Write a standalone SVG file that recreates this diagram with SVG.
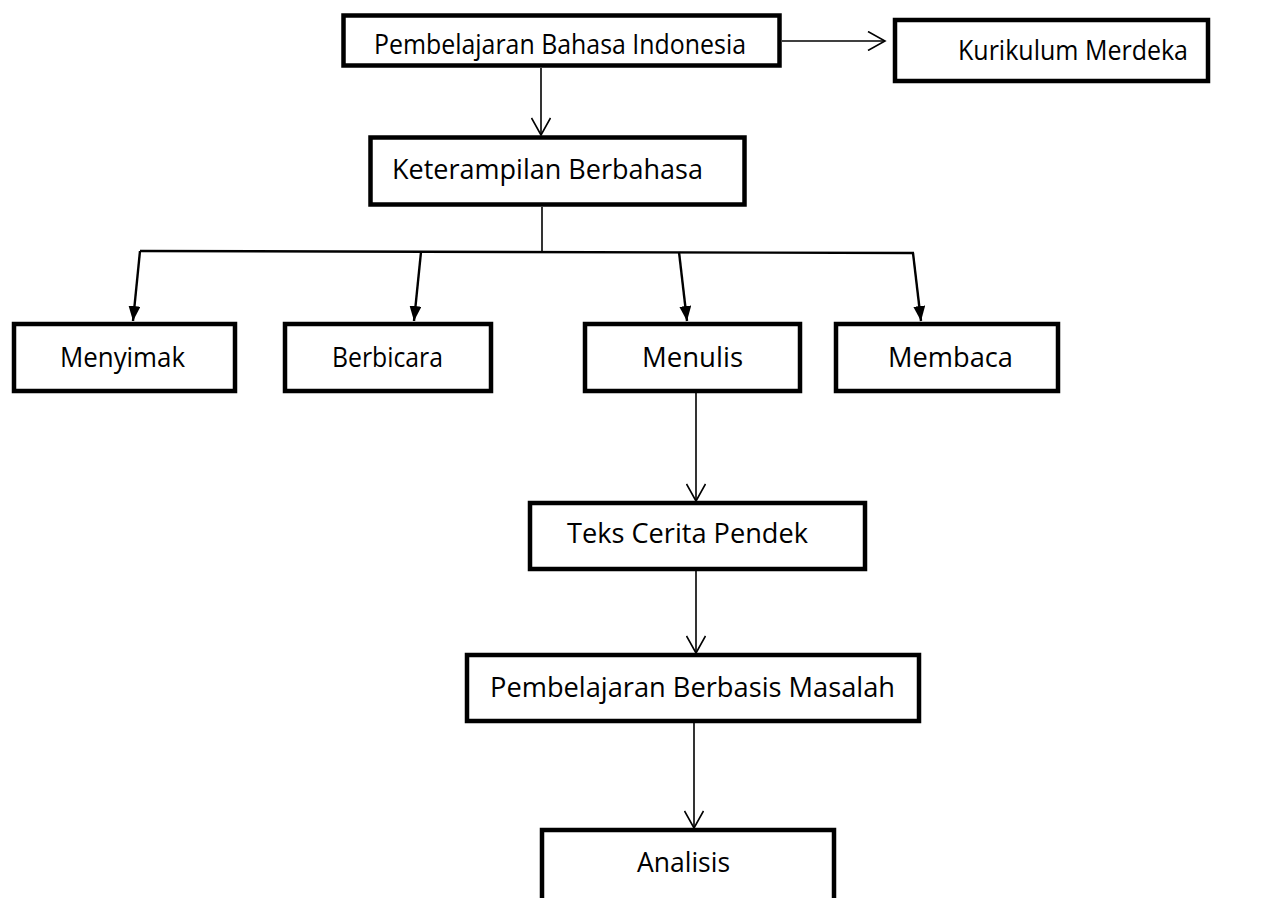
<svg xmlns="http://www.w3.org/2000/svg" width="1261" height="898" viewBox="0 0 1261 898">
<style>
.box{fill:#fff;stroke:#000;stroke-width:4.5}
.lbl{font-family:"Open Sans","Liberation Sans",sans-serif;font-size:28px;fill:#000}
.thin{fill:none;stroke:#000;stroke-width:1.6}
.thick{fill:none;stroke:#000;stroke-width:2.4}
</style>
<defs>
<marker id="open" viewBox="0 0 20 20" refX="18" refY="10" markerWidth="20" markerHeight="20" markerUnits="userSpaceOnUse" orient="auto">
<path d="M1,0.5 L18,10 L1,19.5" fill="none" stroke="#000" stroke-width="1.6"/>
</marker>
<marker id="solid" viewBox="0 0 15 12" refX="15" refY="6" markerWidth="15" markerHeight="12" markerUnits="userSpaceOnUse" orient="auto">
<path d="M0,0 L15,6 L0,12 Z" fill="#000"/>
</marker>
</defs>
<rect width="1261" height="898" fill="#fff"/>
<g id="connectors">
<line class="thin" x1="782" y1="41" x2="885" y2="41" marker-end="url(#open)"/>
<line class="thin" x1="541" y1="68" x2="541" y2="135" marker-end="url(#open)"/>
<line class="thin" x1="542" y1="207" x2="542" y2="253"/>
<line class="thick" x1="140" y1="251" x2="914" y2="253"/>
<line class="thick" x1="140" y1="251" x2="133" y2="321" marker-end="url(#solid)"/>
<line class="thick" x1="421" y1="252" x2="414" y2="321" marker-end="url(#solid)"/>
<line class="thick" x1="679" y1="252" x2="687" y2="321" marker-end="url(#solid)"/>
<line class="thick" x1="913" y1="253" x2="921" y2="321" marker-end="url(#solid)"/>
<line class="thin" x1="696" y1="393" x2="696" y2="501" marker-end="url(#open)"/>
<line class="thin" x1="696" y1="571" x2="696" y2="653" marker-end="url(#open)"/>
<line class="thin" x1="694" y1="723" x2="694" y2="828" marker-end="url(#open)"/>
</g>
<g id="node-pembelajaran-bahasa-indonesia">
<rect class="box" x="343.5" y="15.5" width="436" height="50"/>
<text class="lbl" x="374" y="54" font-size="27" textLength="372" lengthAdjust="spacingAndGlyphs">Pembelajaran Bahasa Indonesia</text>
</g>
<g id="node-kurikulum-merdeka">
<rect class="box" x="895" y="20" width="313" height="61"/>
<text class="lbl" x="958" y="60" textLength="230" lengthAdjust="spacingAndGlyphs">Kurikulum Merdeka</text>
</g>
<g id="node-keterampilan-berbahasa">
<rect class="box" x="370.5" y="137.5" width="374" height="67"/>
<text class="lbl" x="392" y="179" textLength="311" lengthAdjust="spacingAndGlyphs">Keterampilan Berbahasa</text>
</g>
<g id="node-menyimak">
<rect class="box" x="14" y="324" width="221" height="67"/>
<text class="lbl" x="60" y="367" textLength="125" lengthAdjust="spacingAndGlyphs">Menyimak</text>
</g>
<g id="node-berbicara">
<rect class="box" x="285" y="324" width="206" height="67"/>
<text class="lbl" x="332" y="367" textLength="111" lengthAdjust="spacingAndGlyphs">Berbicara</text>
</g>
<g id="node-menulis">
<rect class="box" x="585" y="324" width="215" height="67"/>
<text class="lbl" x="642" y="367" textLength="101" lengthAdjust="spacingAndGlyphs">Menulis</text>
</g>
<g id="node-membaca">
<rect class="box" x="836" y="324" width="222" height="67"/>
<text class="lbl" x="888" y="367" textLength="125" lengthAdjust="spacingAndGlyphs">Membaca</text>
</g>
<g id="node-teks-cerita-pendek">
<rect class="box" x="530" y="503" width="335" height="66"/>
<text class="lbl" x="567" y="543" textLength="241" lengthAdjust="spacingAndGlyphs">Teks Cerita Pendek</text>
</g>
<g id="node-pembelajaran-berbasis-masalah">
<rect class="box" x="467" y="655" width="452" height="66"/>
<text class="lbl" x="490" y="697" textLength="405" lengthAdjust="spacingAndGlyphs">Pembelajaran Berbasis Masalah</text>
</g>
<g id="node-analisis">
<rect class="box" x="542" y="830" width="292" height="90"/>
<text class="lbl" x="637" y="872" textLength="93" lengthAdjust="spacingAndGlyphs">Analisis</text>
</g>
</svg>
